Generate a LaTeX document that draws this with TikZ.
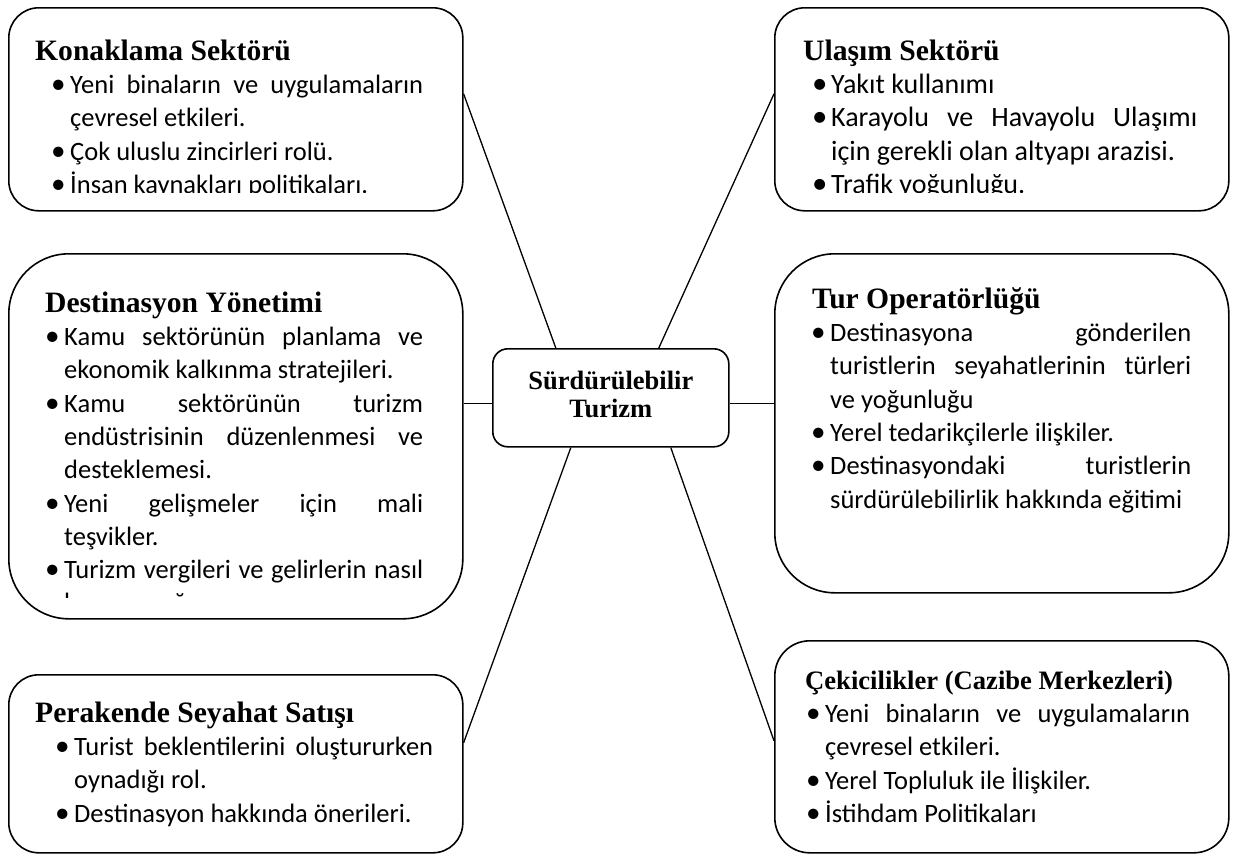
\documentclass[tikz,border=0pt]{standalone}
\usepackage{fontspec}
\setmainfont{Carlito}
\newfontfamily\timesrm{Liberation Serif}

\newlength{\girinti}\setlength{\girinti}{19pt}
\newcommand{\govde}{\fontsize{26.5}{33.3}\selectfont\hyphenpenalty=10000\tolerance=10000}
\newcommand{\madde}{\par\noindent\hangindent=\girinti\hangafter=1\makebox[\girinti][l]{\scalebox{1.1}{\textbullet}}\ignorespaces}
\newcommand{\baslik}[3][29.6]{\noindent\hspace*{#2}{\timesrm\bfseries\fontsize{#1}{33.3}\selectfont\rule{0pt}{22pt}#3}}

\begin{document}
\begin{tikzpicture}[x=1pt, y=-1pt,
  kutu/.style={draw, line width=1.6pt, rounded corners=#1, anchor=north west, inner sep=0pt},
  metin/.style={anchor=north west, inner sep=0pt, text width=#1, align=justify, font=\govde},
  bag/.style={line width=1.3pt}]

\useasboundingbox (0,0) rectangle (1236,855);

% kutular
\node[kutu=30pt, minimum width=454pt, minimum height=203pt] (konak) at (8,7) {};
\node[kutu=60pt, minimum width=454pt, minimum height=365pt] (dest) at (8,253) {};
\node[kutu=30pt, minimum width=454pt, minimum height=178pt] (perak) at (8,674) {};
\node[kutu=30pt, minimum width=454pt, minimum height=203pt] (ulas) at (774,7) {};
\node[kutu=60pt, minimum width=454pt, minimum height=339pt] (tur) at (774,253) {};
\node[kutu=35pt, minimum width=454pt, minimum height=212pt] (cek) at (774,640) {};
\node[kutu=15pt, minimum width=236pt, minimum height=98pt] (ctr) at (492,348) {};
\node[align=center, font=\timesrm\bfseries\fontsize{26.5}{28}\selectfont] (ctrY)
  at ([yshift=3.5pt]ctr.center) {Sürdürülebilir\\Turizm};

% baglantilar
\draw[bag] ([xshift=-55pt]ctr.north) -- ([yshift=15.5pt]konak.east);
\draw[bag] ([xshift=48pt]ctr.north) -- ([yshift=15.5pt]ulas.west);
\draw[bag] ([yshift=-6pt]ctr.west) -- ([yshift=-6pt]ctr.west -| dest.east);
\draw[bag] ([yshift=-6pt]ctr.east) -- ([yshift=-6pt]ctr.east -| tur.west);
\draw[bag] ([xshift=-40pt]ctr.south) -- ([yshift=21pt]perak.east);
\draw[bag] ([xshift=60pt]ctr.south) -- ([yshift=6pt]cek.west);

% metinler
\begin{scope}
\clip (0,0) rectangle (1236,192);
\node[metin=372pt] (konakY) at (51,38) {\baslik{-16pt}{Konaklama Sektörü}
  \madde Yeni binaların ve uygulamaların\linebreak çevresel etkileri.
  \madde Çok uluslu zincirleri rolü.
  \madde İnsan kaynakları politikaları.\par};
\node[metin=385pt, font=\fontsize{28}{33.3}\selectfont] (ulasY) at (812,38) {\baslik{-9pt}{Ulaşım Sektörü}
  \madde Yakıt kullanımı
  \madde Karayolu ve Havayolu Ulaşımı\linebreak için gerekli olan altyapı arazisi.
  \madde Trafik yoğunluğu.\par};
\end{scope}

\begin{scope}
\clip (0,240) rectangle (470,597);
\node[metin=378pt] (destY) at (45,290) {\baslik{0pt}{Destinasyon Yönetimi}
  \madde Kamu sektörünün planlama ve\linebreak ekonomik kalkınma stratejileri.
  \madde Kamu sektörünün turizm\linebreak endüstrisinin düzenlenmesi ve\linebreak desteklemesi.
  \madde Yeni gelişmeler için mali\linebreak teşvikler.
  \madde Turizm vergileri ve gelirlerin nasıl\linebreak harcanacağı:\par};
\end{scope}

\node[metin=378pt] (perakY) at (55,700) {\baslik{-20pt}{Perakende Seyahat Satışı}
  \madde Turist beklentilerini oluştururken\linebreak oynadığı rol.
  \madde Destinasyon hakkında önerileri.\par};

\node[metin=380pt] (turY) at (811,286) {\baslik{1pt}{Tur Operatörlüğü}
  \madde Destinasyona gönderilen\linebreak turistlerin seyahatlerinin türleri\linebreak ve yoğunluğu
  \madde Yerel tedarikçilerle ilişkiler.
  \madde Destinasyondaki turistlerin\linebreak sürdürülebilirlik hakkında eğitimi\par};

\node[metin=384pt] (cekY) at (806,667) {\baslik[26.6]{-1pt}{Çekicilikler (Cazibe Merkezleri)}
  \madde Yeni binaların ve uygulamaların\linebreak çevresel etkileri.
  \madde Yerel Topluluk ile İlişkiler.
  \madde İstihdam Politikaları\par};
\end{tikzpicture}
\end{document}
